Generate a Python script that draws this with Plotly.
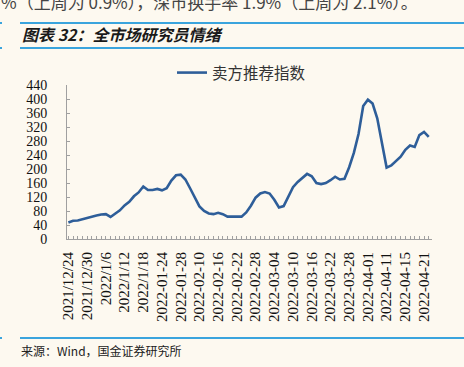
import plotly.graph_objects as go

dates = [
    "2021-12-24", "2021-12-27", "2021-12-28", "2021-12-29", "2021-12-30", "2021-12-31",
    "2022-01-04", "2022-01-05", "2022-01-06", "2022-01-07", "2022-01-10", "2022-01-11",
    "2022-01-12", "2022-01-13", "2022-01-14", "2022-01-17", "2022-01-18", "2022-01-19",
    "2022-01-20", "2022-01-21", "2022-01-24", "2022-01-25", "2022-01-26", "2022-01-27",
    "2022-01-28",
    "2022-02-07", "2022-02-08", "2022-02-09", "2022-02-10", "2022-02-11", "2022-02-14",
    "2022-02-15", "2022-02-16", "2022-02-17", "2022-02-18", "2022-02-21", "2022-02-22",
    "2022-02-23", "2022-02-24", "2022-02-25", "2022-02-28",
    "2022-03-01", "2022-03-02", "2022-03-03", "2022-03-04", "2022-03-07", "2022-03-08",
    "2022-03-09", "2022-03-10", "2022-03-11", "2022-03-14", "2022-03-15", "2022-03-16",
    "2022-03-17", "2022-03-18", "2022-03-21", "2022-03-22", "2022-03-23", "2022-03-24",
    "2022-03-25", "2022-03-28", "2022-03-29", "2022-03-30", "2022-03-31",
    "2022-04-01", "2022-04-06", "2022-04-07", "2022-04-08", "2022-04-11", "2022-04-12",
    "2022-04-13", "2022-04-14", "2022-04-15", "2022-04-18", "2022-04-19", "2022-04-20",
    "2022-04-21", "2022-04-22",
]

sell_side_index = [
    47, 52, 53, 57, 60, 63, 67, 70, 71, 63,
    72, 82, 96, 106, 122, 133, 150, 140, 140, 143,
    139, 145, 167, 182, 184, 170, 145, 118, 93, 80,
    73, 71, 75, 71, 64, 64, 64, 64, 76, 95,
    118, 130, 134, 130, 112, 90, 94, 120, 148, 163,
    174, 186, 179, 160, 157, 160, 168, 178, 170, 172,
    205, 246, 300, 380, 398, 387, 345, 275, 204, 210,
    222, 235, 255, 267, 263, 297, 306, 292,
]

tick_dates = [
    "2021-12-24", "2021-12-30", "2022-01-06", "2022-01-12", "2022-01-18",
    "2022-01-24", "2022-01-28", "2022-02-10", "2022-02-16", "2022-02-22",
    "2022-02-28", "2022-03-04", "2022-03-10", "2022-03-16", "2022-03-22",
    "2022-03-28", "2022-04-01", "2022-04-11", "2022-04-15", "2022-04-21",
]
tick_labels = [
    "2021/12/24", "2021/12/30", "2022/1/6", "2022/1/12", "2022/1/18",
    "2022-01-24", "2022-01-28", "2022-02-10", "2022-02-16", "2022-02-22",
    "2022-02-28", "2022-03-04", "2022-03-10", "2022-03-16", "2022-03-22",
    "2022-03-28", "2022-04-01", "2022-04-11", "2022-04-15", "2022-04-21",
]
y_ticks = [0, 40, 80, 120, 160, 200, 240, 280, 320, 360, 400, 440]

series_name = "卖方推荐指数"
title_text = "图表 32：全市场研究员情绪"
source_text = "来源：Wind，国金证券研究所"
top_text = "%（上周为 0.9%），深市换手率 1.9%（上周为 2.1%）。"

label_map = dict(zip(tick_dates, tick_labels))
all_ticktext = [label_map.get(d, "") for d in dates]

BG = "#FDF9F0"
BLUE = "#3AA4DD"
LINE = "#2E5E99"
W, H = 464, 367
L, R, T, B = 67, 32, 85, 128
pw, ph = W - L - R, H - T - B


def px(x):
    return (x - L) / pw


def py(y):
    return (H - B - y) / ph


fig = go.Figure()
fig.add_trace(go.Scatter(
    x=dates, y=sell_side_index, mode="lines", name=series_name,
    line=dict(color=LINE, width=2.6), showlegend=True,
))

fig.update_layout(
    width=W, height=H, autosize=False,
    margin=dict(l=L, r=R, t=T, b=B, autoexpand=False),
    paper_bgcolor=BG, plot_bgcolor=BG,
    showlegend=True,
    legend=dict(
        orientation="h", xref="container", yref="container",
        x=172 / W, y=1 - 73 / H, xanchor="left", yanchor="middle",
        bgcolor="rgba(0,0,0,0)",
        font=dict(family="Noto Sans CJK SC", size=15.5, color="#333"),
    ),
    xaxis=dict(
        type="category", range=[-0.3, 77.7],
        tickmode="array", tickvals=dates, ticktext=all_ticktext,
        tickangle=-90, ticks="inside", ticklen=3, tickcolor="#A0A0A0",
        showline=True, linecolor="#A0A0A0", linewidth=1,
        showgrid=False, zeroline=False, automargin=False,
        tickfont=dict(family="Liberation Serif", size=15, color="#111"),
        ticklabelstandoff=6,
    ),
    yaxis=dict(
        range=[0, 440], tickmode="array", tickvals=y_ticks,
        ticks="inside", ticklen=3, tickcolor="#A0A0A0",
        showline=True, linecolor="#A0A0A0", linewidth=1,
        showgrid=False, zeroline=False, automargin=False,
        tickfont=dict(family="Liberation Serif", size=14, color="#111"),
        ticklabelstandoff=16,
    ),
)

for yy in (23, 48, 338):
    fig.add_shape(type="line", xref="paper", yref="paper",
                  x0=px(20), x1=px(464), y0=py(yy), y1=py(yy),
                  line=dict(color=BLUE, width=2))
    fig.add_shape(type="line", xref="paper", yref="paper",
                  x0=px(0), x1=px(2), y0=py(yy), y1=py(yy),
                  line=dict(color=BLUE, width=2))

fig.add_annotation(text="<b><i>" + title_text + "</i></b>", xref="paper", yref="paper",
                   x=px(20), y=py(34), xanchor="left", yanchor="middle", showarrow=False,
                   font=dict(family="Noto Sans CJK SC", size=16, color="#1a1a1a"))
fig.add_annotation(text=top_text, xref="paper", yref="paper",
                   x=px(-1), y=py(1), xanchor="left", yanchor="middle", showarrow=False,
                   font=dict(family="Noto Sans CJK SC", size=17, color="#444"))
fig.add_annotation(text=source_text, xref="paper", yref="paper",
                   x=px(19), y=py(350), xanchor="left", yanchor="middle", showarrow=False,
                   font=dict(family="Noto Sans CJK SC", size=12, color="#222"))

fig.write_html(
    "out.html",
    config={"displayModeBar": False},
    post_script="document.body.style.margin='0';document.body.style.background='%s';" % BG,
)
